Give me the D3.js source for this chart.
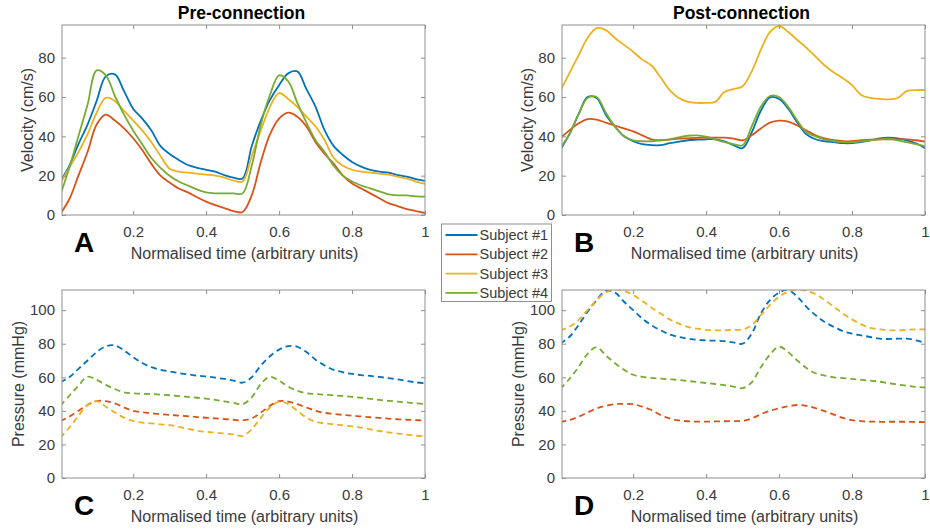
<!DOCTYPE html>
<html>
<head>
<meta charset="utf-8">
<script src="https://cdn.jsdelivr.net/npm/d3@7"></script>
<style>
  body { margin: 0; background: #fff; }
  text { font-family: "Liberation Sans", Arial, Helvetica, sans-serif; }
</style>
</head>
<body>
<svg id="chart"></svg>
<script>
// ---- data ------------------------------------------------------------
const subjects = ['Subject #1', 'Subject #2', 'Subject #3', 'Subject #4'];
const colors = ['#0072BD', '#D95319', '#EDB120', '#77AC30'];
const xTicks = [0.2, 0.4, 0.6, 0.8, 1];
const velTicks = [0, 20, 40, 60, 80];
const pressTicks = [0, 20, 40, 60, 80, 100];

const time = [0, 0.025, 0.05, 0.075, 0.1, 0.125, 0.15, 0.175, 0.2, 0.225,
  0.25, 0.275, 0.3, 0.325, 0.35, 0.375, 0.4, 0.425, 0.45, 0.475,
  0.5, 0.525, 0.55, 0.575, 0.6, 0.625, 0.65, 0.675, 0.7, 0.725,
  0.75, 0.775, 0.8, 0.825, 0.85, 0.875, 0.9, 0.925, 0.95, 0.975, 1];

// Pre-connection velocity (cm/s)
const preVel1 = [17, 25, 36, 46, 58, 70.5, 71.5, 63, 54, 49, 43, 35, 31, 28, 25.4, 24, 23, 22, 20.3, 19,
  18.6, 35, 48, 58.5, 66, 72, 73, 64, 55, 43, 35, 30.5, 27, 24.6, 23, 22, 21.5, 20.3, 19.5, 18.3, 17.3];
const preVel2 = [0.5, 8, 20, 32, 46, 51, 48, 44, 39, 33, 26, 20, 16.5, 13.5, 11.5, 9, 6.8, 5, 3.5, 2,
  1.5, 10, 27, 41, 49, 52, 50, 45, 37, 31, 26, 20, 16, 13.5, 11, 8.5, 6, 4.5, 3, 2, 1];
const preVel3 = [16, 24, 32, 41, 52, 59.6, 58, 53, 48, 43, 37, 30, 23.5, 22, 21.5, 21, 20.5, 20, 19, 17.5,
  17, 30, 43, 55, 62, 59, 55, 50, 45, 38, 29, 25, 23, 22, 21.5, 21, 20.5, 19.5, 18.5, 17, 15.8];
const preVel4 = [10, 24, 40, 56, 73.5, 71, 60.5, 51, 43, 36, 29, 24, 20, 17, 15, 13, 11.5, 11, 11, 11,
  11, 25, 46, 61, 71, 68, 57, 47, 38, 32, 25, 20, 17, 15, 13.5, 12, 10.5, 10, 10, 9.5, 9.3];

// Post-connection velocity (cm/s)
const postVel1 = [33, 41, 51, 60, 59.5, 51, 45, 40, 37.5, 36, 35.5, 35.5, 36.5, 37.3, 38, 38.3, 38.5, 38.5, 37.5, 35.5,
  34, 42, 53, 59.8, 59, 54, 47, 41, 38.5, 37.5, 37, 36.5, 36.5, 37, 38, 39, 39.3, 39, 38, 36.5, 34];
const postVel2 = [39, 43, 46.5, 48.8, 48.5, 47, 45.5, 44, 42.5, 40.5, 38.5, 38, 38.3, 38.8, 39, 39.2, 39.3, 39.3, 39.3, 38.8,
  38, 40.5, 44, 47, 48, 47.5, 45.5, 43, 40.5, 39, 38, 37.5, 37.5, 38, 38.3, 38.5, 38.5, 38.5, 38.5, 38, 37.3];
const postVel3 = [63, 72, 81, 90, 95, 94, 90, 86.5, 83, 79, 76, 70, 63.5, 59.5, 57.5, 57, 57, 57.5, 62.5, 64,
  65.5, 73, 84, 93, 96, 93, 89, 85, 80.5, 76, 72.5, 69.5, 66, 61, 59.5, 59, 58.8, 59.5, 63, 63.5, 63.5];
const postVel4 = [34, 41, 51, 59.5, 60, 52, 45, 40, 38, 37.5, 37.5, 38, 38.5, 39.5, 40.3, 40.5, 39.8, 38.5, 37, 36,
  35.5, 45, 55, 60.5, 60, 55, 48, 42, 40, 38.5, 37.5, 37, 37, 37.5, 38, 38.5, 38.8, 38, 37, 36, 35];

// Pre-connection pressure (mmHg)
const prePress1 = [57, 60, 65, 70, 75, 78.5, 79, 76, 72, 68.5, 66, 64.5, 63.5, 62.5, 61.8, 61, 60.5, 59.8, 59, 58,
  56.8, 60, 67, 72.5, 76.5, 78.6, 78.2, 75, 70.5, 67, 64.4, 63, 62, 61.3, 60.8, 60.2, 59.5, 58.7, 57.8, 57, 56.4];
const prePress2 = [34, 36.5, 40, 43.5, 45.8, 45.8, 44.5, 42, 40, 39.2, 38.6, 38, 37.6, 37.2, 36.8, 36.3, 35.9, 35.5, 35.1, 34.7,
  34.3, 35.5, 39, 43, 45.8, 45.5, 44, 42, 40, 38.8, 38.2, 37.6, 37.1, 36.7, 36.2, 35.8, 35.4, 35, 34.7, 34.5, 34.3];
const prePress3 = [24, 30, 37, 43.5, 45.8, 42.5, 39, 36, 34, 33, 32.5, 32, 31.5, 30.5, 29.3, 28.2, 27.5, 27, 26.5, 26,
  25, 29, 36, 42, 45.5, 44, 40, 36, 33.5, 32.5, 32, 31.3, 30.7, 30, 29, 28, 27.2, 26.5, 25.8, 25.2, 24.8];
const prePress4 = [43, 49, 55, 60.3, 58.5, 55.5, 53, 51, 50.5, 50.2, 50, 49.7, 49.3, 48.8, 48.3, 47.8, 47.3, 46.5, 45.6, 44.7,
  44, 48, 56, 60.3, 58, 54.5, 52, 50.5, 50, 49.6, 49.3, 48.8, 48.3, 47.8, 47.2, 46.5, 46, 45.5, 45, 44.5, 44];

// Post-connection pressure (mmHg)
const postPress1 = [80, 84, 91, 99, 106, 111.5, 110.5, 105, 100, 95, 91, 88, 85.5, 84, 83, 82.3, 82, 81.8, 81.5, 80.8,
  80, 86, 98, 106, 110.5, 112, 108, 102, 97, 93, 90, 87.5, 86, 85, 84, 83, 82.8, 83, 83, 82, 80.6];
const postPress2 = [33.5, 34.5, 36.5, 39, 41.5, 43, 44, 44.2, 44, 42.5, 40.5, 37.5, 35.5, 34.3, 33.8, 33.6, 33.6, 33.7, 33.8, 33.9,
  34, 35.5, 38, 40, 41.5, 42.8, 43.5, 43, 41.6, 39.8, 37.8, 35.8, 34.5, 33.9, 33.6, 33.5, 33.5, 33.5, 33.5, 33.4, 33.3];
const postPress3 = [88, 90, 94, 100, 106, 110.5, 112.3, 111.5, 109, 105.5, 101.5, 98, 94.5, 92, 90, 89, 88.3, 88, 88, 88.3,
  88.5, 91, 97, 103, 108, 111, 112.3, 111.5, 109.5, 106, 102, 98, 94.5, 91.5, 89.5, 88.5, 88, 88, 88.2, 88.5, 88.5];
const postPress4 = [53, 59, 66, 74, 78, 73, 68.5, 64.5, 61.5, 60.3, 59.6, 59.2, 58.8, 58.4, 57.8, 57.2, 56.6, 56, 55.3, 54.5,
  53.5, 57, 66, 73.5, 78.2, 75, 70, 65.5, 62.4, 61, 60, 59.5, 59, 58.5, 58, 57.4, 56.5, 55.7, 55, 54.3, 54];

// ---- setup -----------------------------------------------------------
const width = 930;
const height = 531;

const svg = d3.select('#chart')
  .attr('width', width)
  .attr('height', height);

const boxColor = '#8f8f8f';
const labelColor = '#3a3a3a';

const panels = [
  { id: 'A', left: 62, right: 425, top: 25, bottom: 215, yMax: 96.6, yTicks: velTicks,
    series: [preVel1, preVel2, preVel3, preVel4], dashed: false,
    title: 'Pre-connection', ylabel: 'Velocity (cm/s)', ylabelDx: 35 },
  { id: 'B', left: 562, right: 925, top: 25, bottom: 215, yMax: 96.6, yTicks: velTicks,
    series: [postVel1, postVel2, postVel3, postVel4], dashed: false,
    title: 'Post-connection', ylabel: 'Velocity (cm/s)', ylabelDx: 35 },
  { id: 'C', left: 62, right: 425, top: 290, bottom: 478, yMax: 112, yTicks: pressTicks,
    series: [prePress1, prePress2, prePress3, prePress4], dashed: true,
    title: null, ylabel: 'Pressure (mmHg)', ylabelDx: 44 },
  { id: 'D', left: 562, right: 925, top: 290, bottom: 478, yMax: 112, yTicks: pressTicks,
    series: [postPress1, postPress2, postPress3, postPress4], dashed: true,
    title: null, ylabel: 'Pressure (mmHg)', ylabelDx: 44 },
];

function drawPanel(p) {
  const x = d3.scaleLinear().domain([0.005, 1]).range([p.left, p.right]);
  const y = d3.scaleLinear().domain([0, p.yMax]).range([p.bottom, p.top]);

  const g = svg.append('g');

  g.append('clipPath')
    .attr('id', 'clip' + p.id)
    .append('rect')
    .attr('x', p.left)
    .attr('y', p.top)
    .attr('width', p.right - p.left)
    .attr('height', p.bottom - p.top);

  const line = d3.line()
    .x((d, i) => x(time[i]))
    .y(d => y(d))
    .curve(d3.curveCatmullRom.alpha(0.5));

  g.append('g')
    .attr('clip-path', `url(#clip${p.id})`)
    .selectAll('path')
    .data(p.series)
    .enter().append('path')
    .attr('d', line)
    .attr('fill', 'none')
    .attr('stroke', (d, i) => colors[i])
    .attr('stroke-width', 1.8)
    .attr('stroke-dasharray', p.dashed ? '6,4' : null);

  // axes, ticks pointing inside, mirrored on top/right
  const fmt = d3.format('~g');
  const bottomAxis = g.append('g')
    .attr('transform', `translate(0,${p.bottom})`)
    .call(d3.axisBottom(x).tickValues(xTicks).tickSize(-4).tickSizeOuter(0).tickPadding(11).tickFormat(fmt));
  const topAxis = g.append('g')
    .attr('transform', `translate(0,${p.top})`)
    .call(d3.axisTop(x).tickValues(xTicks).tickSize(-4).tickSizeOuter(0).tickFormat(''));
  const leftAxis = g.append('g')
    .attr('transform', `translate(${p.left},0)`)
    .call(d3.axisLeft(y).tickValues(p.yTicks).tickSize(-4).tickSizeOuter(0).tickPadding(7).tickFormat(fmt));
  const rightAxis = g.append('g')
    .attr('transform', `translate(${p.right},0)`)
    .call(d3.axisRight(y).tickValues(p.yTicks).tickSize(-4).tickSizeOuter(0).tickFormat(''));

  [bottomAxis, topAxis, leftAxis, rightAxis].forEach(a => {
    a.select('.domain').remove();
    a.selectAll('line').attr('stroke', boxColor);
    a.selectAll('text')
      .attr('fill', labelColor)
      .attr('font-size', '15px')
      .style('font-family', '"Liberation Sans", Arial, sans-serif');
  });

  g.append('rect')
    .attr('x', p.left)
    .attr('y', p.top)
    .attr('width', p.right - p.left)
    .attr('height', p.bottom - p.top)
    .attr('fill', 'none')
    .attr('stroke', boxColor)
    .attr('stroke-width', 1);

  // labels
  g.append('text')
    .attr('x', (p.left + p.right) / 2 + 1)
    .attr('y', p.bottom + 44)
    .attr('text-anchor', 'middle')
    .attr('fill', labelColor)
    .attr('font-size', '16px')
    .text('Normalised time (arbitrary units)');

  g.append('text')
    .attr('transform', `translate(${p.left - p.ylabelDx},${(p.top + p.bottom) / 2}) rotate(-90)`)
    .attr('text-anchor', 'middle')
    .attr('dy', '0.35em')
    .attr('fill', labelColor)
    .attr('font-size', '16px')
    .text(p.ylabel);

  if (p.title) {
    g.append('text')
      .attr('x', (p.left + p.right) / 2 - 2)
      .attr('y', 18.5)
      .attr('text-anchor', 'middle')
      .attr('fill', '#000')
      .attr('font-size', '17.5px')
      .attr('font-weight', 'bold')
      .text(p.title);
  }

  g.append('text')
    .attr('x', p.left + 12)
    .attr('y', p.bottom + 37)
    .attr('fill', '#000')
    .attr('font-size', '28px')
    .attr('font-weight', 'bold')
    .text(p.id);
}

panels.forEach(drawPanel);

// legend
const legend = svg.append('g').attr('transform', 'translate(441.5,224)');
legend.append('rect')
  .attr('width', 110)
  .attr('height', 77.5)
  .attr('fill', '#fff')
  .attr('stroke', boxColor);

const items = legend.selectAll('.item')
  .data(subjects)
  .enter().append('g')
  .attr('class', 'item')
  .attr('transform', (d, i) => `translate(0,${11 + i * 19.3})`);

items.append('line')
  .attr('x1', 4)
  .attr('x2', 36)
  .attr('stroke', (d, i) => colors[i])
  .attr('stroke-width', 1.8);

items.append('text')
  .attr('x', 38)
  .attr('dy', '0.35em')
  .attr('fill', labelColor)
  .attr('font-size', '14.5px')
  .text(d => d);
</script>
</body>
</html>
